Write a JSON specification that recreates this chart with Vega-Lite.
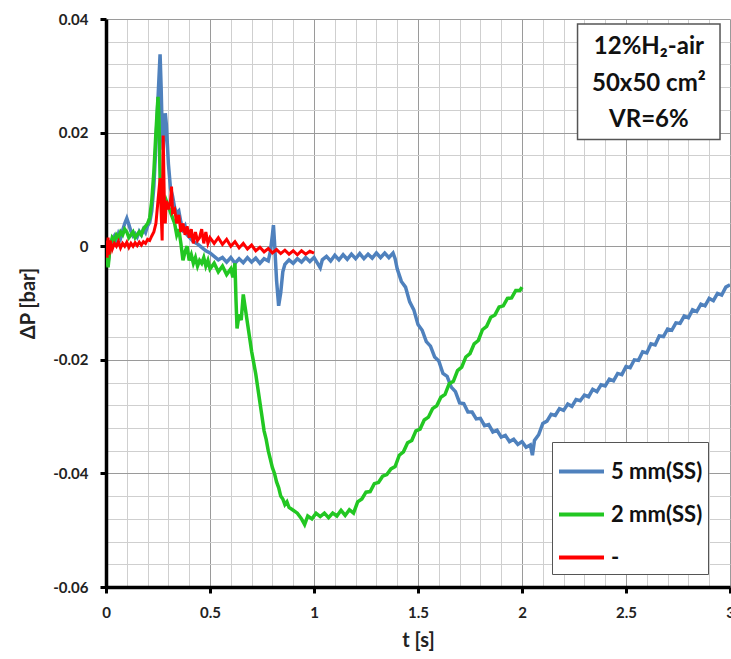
{
"$schema":"https://vega.github.io/schema/vega-lite/v6.json",
"width":624,"height":568,
"autosize":"none",
"padding":{"left":106,"top":19,"right":1,"bottom":72},
"background":"white",
"config":{"view":{"stroke":null},"font":"Lato",
 "axis":{"gridWidth":1,"domainColor":"black","domainWidth":3.5,"tickWidth":3,"tickSize":6,
  "labelFont":"Lato","labelFontWeight":"bold","labelFontSize":15,"labelColor":"#222","labelPadding":12,"labelFlush":false,"labelOverlap":false,
  "titleFont":"Lato","titleFontWeight":"bold","titleFontSize":20,"titleColor":"#222"}},
"resolve":{"axis":{"x":"independent","y":"independent"}},
"datasets":{
"blue":[{"t":0,"p":-0.001},{"t":0.01,"p":-0.003},{"t":0.02,"p":0.0002},{"t":0.03,"p":0.0012},{"t":0.04,"p":0.0018},{"t":0.05,"p":0.0008},{"t":0.06,"p":0.0022},{"t":0.07,"p":0.0014},{"t":0.08,"p":0.0028},{"t":0.09,"p":0.004},{"t":0.1,"p":0.0049},{"t":0.11,"p":0.0038},{"t":0.12,"p":0.0026},{"t":0.13,"p":0.0018},{"t":0.14,"p":0.0022},{"t":0.15,"p":0.0016},{"t":0.16,"p":0.0026},{"t":0.17,"p":0.002},{"t":0.18,"p":0.003},{"t":0.19,"p":0.0024},{"t":0.2,"p":0.0036},{"t":0.21,"p":0.0042},{"t":0.22,"p":0.0062},{"t":0.23,"p":0.0105},{"t":0.24,"p":0.018},{"t":0.25,"p":0.026},{"t":0.26,"p":0.0338},{"t":0.265,"p":0.028},{"t":0.27,"p":0.0205},{"t":0.275,"p":0.017},{"t":0.28,"p":0.0205},{"t":0.285,"p":0.0234},{"t":0.29,"p":0.0215},{"t":0.3,"p":0.0145},{"t":0.31,"p":0.0102},{"t":0.32,"p":0.0088},{"t":0.33,"p":0.0068},{"t":0.34,"p":0.0058},{"t":0.35,"p":0.0062},{"t":0.36,"p":0.0042},{"t":0.37,"p":0.003},{"t":0.38,"p":0.0036},{"t":0.39,"p":0.002},{"t":0.4,"p":0.0016},{"t":0.42,"p":0.0008},{"t":0.44,"p":0.0004},{"t":0.46,"p":-0.0002},{"t":0.48,"p":-0.0008},{"t":0.5,"p":-0.0012},{"t":0.52,"p":-0.0018},{"t":0.54,"p":-0.0024},{"t":0.56,"p":-0.002},{"t":0.58,"p":-0.0028},{"t":0.6,"p":-0.002},{"t":0.62,"p":-0.003},{"t":0.64,"p":-0.0022},{"t":0.66,"p":-0.0029},{"t":0.68,"p":-0.002},{"t":0.7,"p":-0.0028},{"t":0.72,"p":-0.0021},{"t":0.74,"p":-0.003},{"t":0.76,"p":-0.0022},{"t":0.78,"p":-0.0026},{"t":0.79,"p":-0.001},{"t":0.8,"p":0.002},{"t":0.805,"p":0.0037},{"t":0.81,"p":0.0008},{"t":0.82,"p":-0.006},{"t":0.83,"p":-0.0105},{"t":0.84,"p":-0.0082},{"t":0.85,"p":-0.0045},{"t":0.86,"p":-0.0032},{"t":0.88,"p":-0.0024},{"t":0.9,"p":-0.003},{"t":0.92,"p":-0.0022},{"t":0.94,"p":-0.0028},{"t":0.96,"p":-0.002},{"t":0.98,"p":-0.0027},{"t":1,"p":-0.002},{"t":1.02,"p":-0.0032},{"t":1.03,"p":-0.0038},{"t":1.04,"p":-0.0024},{"t":1.06,"p":-0.0018},{"t":1.08,"p":-0.0026},{"t":1.1,"p":-0.0016},{"t":1.12,"p":-0.0024},{"t":1.14,"p":-0.0015},{"t":1.16,"p":-0.0023},{"t":1.18,"p":-0.0014},{"t":1.2,"p":-0.0022},{"t":1.22,"p":-0.0013},{"t":1.24,"p":-0.0022},{"t":1.26,"p":-0.0014},{"t":1.28,"p":-0.0021},{"t":1.3,"p":-0.0012},{"t":1.32,"p":-0.002},{"t":1.34,"p":-0.0012},{"t":1.36,"p":-0.002},{"t":1.38,"p":-0.0012},{"t":1.39,"p":-0.0022},{"t":1.4,"p":-0.004},{"t":1.42,"p":-0.0062},{"t":1.44,"p":-0.0072},{"t":1.46,"p":-0.0098},{"t":1.48,"p":-0.0112},{"t":1.5,"p":-0.0138},{"t":1.52,"p":-0.0148},{"t":1.54,"p":-0.0168},{"t":1.56,"p":-0.0176},{"t":1.58,"p":-0.0195},{"t":1.6,"p":-0.0202},{"t":1.62,"p":-0.0224},{"t":1.64,"p":-0.0229},{"t":1.66,"p":-0.0248},{"t":1.68,"p":-0.0256},{"t":1.7,"p":-0.0276},{"t":1.72,"p":-0.0277},{"t":1.74,"p":-0.0292},{"t":1.76,"p":-0.0292},{"t":1.78,"p":-0.0304},{"t":1.8,"p":-0.0303},{"t":1.82,"p":-0.0316},{"t":1.84,"p":-0.0314},{"t":1.86,"p":-0.0327},{"t":1.88,"p":-0.0324},{"t":1.9,"p":-0.0336},{"t":1.92,"p":-0.0333},{"t":1.94,"p":-0.0344},{"t":1.96,"p":-0.034},{"t":1.98,"p":-0.0349},{"t":2,"p":-0.0344},{"t":2.02,"p":-0.0354},{"t":2.04,"p":-0.035},{"t":2.05,"p":-0.0368},{"t":2.06,"p":-0.0342},{"t":2.08,"p":-0.0332},{"t":2.1,"p":-0.0312},{"t":2.12,"p":-0.0308},{"t":2.14,"p":-0.0296},{"t":2.16,"p":-0.0298},{"t":2.18,"p":-0.0286},{"t":2.2,"p":-0.0289},{"t":2.22,"p":-0.0278},{"t":2.24,"p":-0.0282},{"t":2.26,"p":-0.027},{"t":2.28,"p":-0.0272},{"t":2.3,"p":-0.0262},{"t":2.32,"p":-0.0265},{"t":2.34,"p":-0.0252},{"t":2.36,"p":-0.0256},{"t":2.38,"p":-0.0244},{"t":2.4,"p":-0.0246},{"t":2.42,"p":-0.0234},{"t":2.44,"p":-0.0237},{"t":2.46,"p":-0.0224},{"t":2.48,"p":-0.0226},{"t":2.5,"p":-0.0212},{"t":2.52,"p":-0.0214},{"t":2.54,"p":-0.02},{"t":2.56,"p":-0.0201},{"t":2.58,"p":-0.0186},{"t":2.6,"p":-0.0188},{"t":2.62,"p":-0.0172},{"t":2.64,"p":-0.0174},{"t":2.66,"p":-0.0158},{"t":2.68,"p":-0.0159},{"t":2.7,"p":-0.0146},{"t":2.72,"p":-0.0148},{"t":2.74,"p":-0.0135},{"t":2.76,"p":-0.0136},{"t":2.78,"p":-0.0123},{"t":2.8,"p":-0.0126},{"t":2.82,"p":-0.0112},{"t":2.84,"p":-0.0115},{"t":2.86,"p":-0.0102},{"t":2.88,"p":-0.0105},{"t":2.9,"p":-0.0092},{"t":2.92,"p":-0.0096},{"t":2.94,"p":-0.0083},{"t":2.96,"p":-0.0086},{"t":2.98,"p":-0.0072},{"t":3,"p":-0.0068}],
"green":[{"t":0,"p":-0.001},{"t":0.01,"p":-0.0037},{"t":0.02,"p":0.0},{"t":0.03,"p":0.0015},{"t":0.04,"p":0.001},{"t":0.05,"p":0.002},{"t":0.06,"p":0.0015},{"t":0.07,"p":0.0025},{"t":0.08,"p":0.002},{"t":0.09,"p":0.003},{"t":0.1,"p":0.0025},{"t":0.11,"p":0.0015},{"t":0.12,"p":0.002},{"t":0.13,"p":0.0025},{"t":0.14,"p":0.0015},{"t":0.15,"p":0.002},{"t":0.16,"p":0.0025},{"t":0.17,"p":0.002},{"t":0.18,"p":0.003},{"t":0.19,"p":0.0035},{"t":0.2,"p":0.004},{"t":0.21,"p":0.005},{"t":0.22,"p":0.008},{"t":0.23,"p":0.013},{"t":0.24,"p":0.02},{"t":0.25,"p":0.0263},{"t":0.255,"p":0.022},{"t":0.26,"p":0.012},{"t":0.27,"p":0.007},{"t":0.28,"p":0.006},{"t":0.29,"p":0.008},{"t":0.3,"p":0.007},{"t":0.31,"p":0.006},{"t":0.32,"p":0.005},{"t":0.33,"p":0.004},{"t":0.34,"p":0.002},{"t":0.35,"p":0.003},{"t":0.36,"p":0.0005},{"t":0.37,"p":-0.0025},{"t":0.38,"p":-0.001},{"t":0.39,"p":0.0},{"t":0.4,"p":-0.0025},{"t":0.41,"p":-0.0015},{"t":0.42,"p":-0.003},{"t":0.43,"p":-0.002},{"t":0.44,"p":-0.0035},{"t":0.45,"p":-0.0025},{"t":0.46,"p":-0.003},{"t":0.47,"p":-0.002},{"t":0.48,"p":-0.0035},{"t":0.49,"p":-0.0025},{"t":0.5,"p":-0.004},{"t":0.52,"p":-0.003},{"t":0.54,"p":-0.0045},{"t":0.56,"p":-0.0035},{"t":0.58,"p":-0.005},{"t":0.6,"p":-0.004},{"t":0.61,"p":-0.0055},{"t":0.62,"p":-0.003},{"t":0.625,"p":-0.0095},{"t":0.63,"p":-0.0145},{"t":0.64,"p":-0.012},{"t":0.65,"p":-0.013},{"t":0.66,"p":-0.0085},{"t":0.67,"p":-0.011},{"t":0.68,"p":-0.0135},{"t":0.69,"p":-0.016},{"t":0.7,"p":-0.0185},{"t":0.71,"p":-0.0205},{"t":0.72,"p":-0.0225},{"t":0.73,"p":-0.025},{"t":0.74,"p":-0.0275},{"t":0.75,"p":-0.03},{"t":0.76,"p":-0.0325},{"t":0.77,"p":-0.034},{"t":0.78,"p":-0.036},{"t":0.79,"p":-0.0375},{"t":0.8,"p":-0.039},{"t":0.81,"p":-0.04},{"t":0.82,"p":-0.0415},{"t":0.83,"p":-0.0425},{"t":0.84,"p":-0.044},{"t":0.85,"p":-0.0445},{"t":0.86,"p":-0.0455},{"t":0.87,"p":-0.045},{"t":0.88,"p":-0.046},{"t":0.9,"p":-0.0465},{"t":0.92,"p":-0.047},{"t":0.94,"p":-0.048},{"t":0.955,"p":-0.049},{"t":0.97,"p":-0.0475},{"t":0.99,"p":-0.048},{"t":1.01,"p":-0.047},{"t":1.03,"p":-0.0476},{"t":1.05,"p":-0.047},{"t":1.07,"p":-0.0478},{"t":1.09,"p":-0.047},{"t":1.11,"p":-0.0475},{"t":1.13,"p":-0.0465},{"t":1.15,"p":-0.0474},{"t":1.17,"p":-0.0464},{"t":1.19,"p":-0.047},{"t":1.21,"p":-0.045},{"t":1.23,"p":-0.0445},{"t":1.25,"p":-0.0433},{"t":1.27,"p":-0.0432},{"t":1.29,"p":-0.0418},{"t":1.31,"p":-0.0416},{"t":1.33,"p":-0.0405},{"t":1.35,"p":-0.0402},{"t":1.37,"p":-0.0392},{"t":1.39,"p":-0.0388},{"t":1.41,"p":-0.0368},{"t":1.43,"p":-0.0362},{"t":1.45,"p":-0.0346},{"t":1.47,"p":-0.0342},{"t":1.49,"p":-0.0325},{"t":1.51,"p":-0.0322},{"t":1.53,"p":-0.0306},{"t":1.55,"p":-0.0301},{"t":1.57,"p":-0.0286},{"t":1.59,"p":-0.0281},{"t":1.61,"p":-0.0266},{"t":1.63,"p":-0.0261},{"t":1.65,"p":-0.0242},{"t":1.67,"p":-0.0238},{"t":1.69,"p":-0.0219},{"t":1.71,"p":-0.0213},{"t":1.73,"p":-0.0195},{"t":1.75,"p":-0.0189},{"t":1.77,"p":-0.0172},{"t":1.79,"p":-0.0166},{"t":1.81,"p":-0.0147},{"t":1.83,"p":-0.0141},{"t":1.85,"p":-0.0125},{"t":1.87,"p":-0.0121},{"t":1.89,"p":-0.0107},{"t":1.91,"p":-0.0105},{"t":1.93,"p":-0.0092},{"t":1.95,"p":-0.0091},{"t":1.97,"p":-0.0078},{"t":1.99,"p":-0.0078},{"t":2,"p":-0.0072}],
"red":[{"t":0,"p":0.001},{"t":0.005,"p":-0.002},{"t":0.01,"p":0.0015},{"t":0.015,"p":-0.0015},{"t":0.02,"p":0.001},{"t":0.03,"p":-0.0005},{"t":0.04,"p":0.0005},{"t":0.05,"p":0.0},{"t":0.06,"p":0.0008},{"t":0.07,"p":-0.0003},{"t":0.08,"p":0.0005},{"t":0.09,"p":0.0},{"t":0.1,"p":0.0007},{"t":0.11,"p":-0.0002},{"t":0.12,"p":0.0005},{"t":0.13,"p":0.0},{"t":0.14,"p":0.0006},{"t":0.15,"p":0.0001},{"t":0.16,"p":0.0007},{"t":0.17,"p":0.0002},{"t":0.18,"p":0.0008},{"t":0.19,"p":0.0005},{"t":0.2,"p":0.0012},{"t":0.21,"p":0.001},{"t":0.22,"p":0.0018},{"t":0.23,"p":0.0025},{"t":0.24,"p":0.004},{"t":0.25,"p":0.008},{"t":0.26,"p":0.012},{"t":0.265,"p":0.006},{"t":0.27,"p":0.001},{"t":0.275,"p":0.0195},{"t":0.28,"p":0.009},{"t":0.285,"p":0.004},{"t":0.29,"p":0.008},{"t":0.3,"p":0.0065},{"t":0.31,"p":0.008},{"t":0.315,"p":0.0105},{"t":0.32,"p":0.006},{"t":0.33,"p":0.0065},{"t":0.34,"p":0.004},{"t":0.35,"p":0.0055},{"t":0.36,"p":0.0025},{"t":0.37,"p":0.004},{"t":0.38,"p":0.002},{"t":0.39,"p":0.0035},{"t":0.4,"p":0.0015},{"t":0.41,"p":0.003},{"t":0.42,"p":0.0005},{"t":0.43,"p":0.0025},{"t":0.44,"p":0.001},{"t":0.45,"p":0.0015},{"t":0.46,"p":0.003},{"t":0.47,"p":0.0005},{"t":0.48,"p":0.0025},{"t":0.49,"p":0.0005},{"t":0.5,"p":0.0015},{"t":0.52,"p":0.0005},{"t":0.54,"p":0.0015},{"t":0.56,"p":0.0003},{"t":0.58,"p":0.0012},{"t":0.6,"p":0.0},{"t":0.62,"p":0.0008},{"t":0.64,"p":-0.0003},{"t":0.66,"p":0.0005},{"t":0.68,"p":-0.0005},{"t":0.7,"p":0.0002},{"t":0.72,"p":-0.0008},{"t":0.74,"p":-0.0002},{"t":0.76,"p":-0.001},{"t":0.78,"p":-0.0004},{"t":0.8,"p":-0.0012},{"t":0.82,"p":-0.0006},{"t":0.84,"p":-0.0013},{"t":0.86,"p":-0.0007},{"t":0.88,"p":-0.0014},{"t":0.9,"p":-0.0008},{"t":0.92,"p":-0.0015},{"t":0.94,"p":-0.0008},{"t":0.96,"p":-0.0014},{"t":0.98,"p":-0.0009},{"t":1,"p":-0.0012}]
},
"layer":[
{"data":{"name":"blue"},
 "mark":{"type":"line","strokeWidth":3.5,"clip":true},
 "encoding":{
  "x":{"field":"t","type":"quantitative","scale":{"domain":[0,3],"nice":false,"zero":false},
   "axis":{"title":"t [s]","titlePadding":10,"values":[0,0.1,0.2,0.3,0.4,0.5,0.6,0.7,0.8,0.9,1,1.1,1.2,1.3,1.4,1.5,1.6,1.7,1.8,1.9,2,2.1,2.2,2.3,2.4,2.5,2.6,2.7,2.8,2.9,3],
    "labelExpr":"abs(datum.value*2-round(datum.value*2))<0.001 ? format(datum.value,'~g') : ''",
    "gridColor":{"condition":{"test":"abs(datum.value*2-round(datum.value*2))<0.001","value":"#9a9a9a"},"value":"#cfcfcf"},
    "tickColor":{"condition":{"test":"abs(datum.value*2-round(datum.value*2))<0.001","value":"black"},"value":"transparent"}}},
  "y":{"field":"p","type":"quantitative","scale":{"domain":[-0.06,0.04],"nice":false,"zero":false},
   "axis":{"title":"ΔP [bar]","titlePadding":14,"values":[-0.06,-0.056,-0.052,-0.048,-0.044,-0.04,-0.036,-0.032,-0.028,-0.024,-0.02,-0.016,-0.012,-0.008,-0.004,0,0.004,0.008,0.012,0.016,0.02,0.024,0.028,0.032,0.036,0.04],
    "labelExpr":"abs(datum.value*50-round(datum.value*50))<0.001 ? (abs(datum.value)<0.0001 ? '0' : (datum.value<0 ? '-' : '') + format(abs(datum.value),'.2f')) : ''",
    "gridColor":{"condition":{"test":"abs(datum.value*50-round(datum.value*50))<0.001","value":"#9a9a9a"},"value":"#cfcfcf"},
    "tickColor":{"condition":{"test":"abs(datum.value*50-round(datum.value*50))<0.001","value":"black"},"value":"transparent"}}},
  "color":{"datum":"5 mm(SS)","type":"nominal",
   "scale":{"domain":["5 mm(SS)","2 mm(SS)","-"],"range":["#4f81bd","#22c722","#ff0000"]},
   "legend":{"title":null,"orient":"none","legendX":446,"legendY":423,"symbolType":"stroke","symbolSize":2025,"symbolStrokeWidth":4,
    "labelFont":"Lato","labelFontSize":22,"labelFontWeight":"bold","labelColor":"#111","labelOffset":5,"rowPadding":7,"padding":5,
    "fillColor":"white","strokeColor":"#555","labelLimit":200}}
 }},
{"data":{"name":"green"},
 "mark":{"type":"line","strokeWidth":3.5,"clip":true},
 "encoding":{"x":{"field":"t","type":"quantitative","axis":null},"y":{"field":"p","type":"quantitative","axis":null},"color":{"datum":"2 mm(SS)","type":"nominal"}}},
{"data":{"name":"red"},
 "mark":{"type":"line","strokeWidth":3,"clip":true},
 "encoding":{"x":{"field":"t","type":"quantitative","axis":null},"y":{"field":"p","type":"quantitative","axis":null},"color":{"datum":"-","type":"nominal"}}},
{"data":{"values":[{"a":1}]},
 "mark":{"type":"rect","fill":"white","stroke":"#555","strokeWidth":1.5},
 "encoding":{"x":{"datum":2.267,"type":"quantitative","axis":null},"x2":{"datum":2.952},"y":{"datum":0.0391,"type":"quantitative","axis":null},"y2":{"datum":0.0188}}},
{"data":{"values":[{"a":1}]},
 "mark":{"type":"text","text":["12%H₂-air","50x50 cm²","VR=6%"],"font":"Lato","fontSize":24,"fontWeight":"bold","lineHeight":36.5,"align":"center","baseline":"middle","color":"#111"},
 "encoding":{"x":{"datum":2.61,"type":"quantitative","axis":null},"y":{"datum":0.035,"type":"quantitative","axis":null}}}
]
}
